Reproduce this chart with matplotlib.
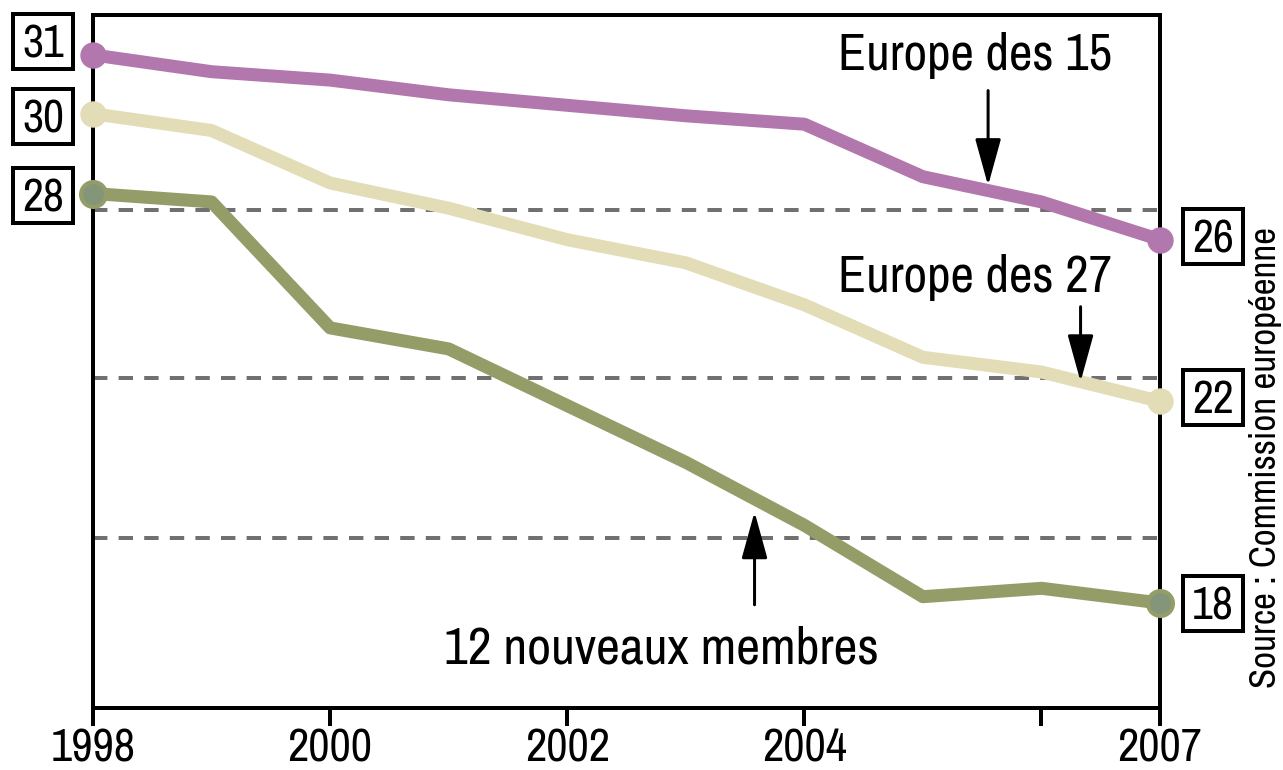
import matplotlib
matplotlib.use('Agg')
import matplotlib.pyplot as plt
from matplotlib.patches import Rectangle
from matplotlib.transforms import IdentityTransform
import numpy as np

# ---------------- data ----------------
years = [1998, 1999, 2000, 2001, 2002, 2003, 2004, 2005, 2006, 2007]
eu15 = [31.0, 30.6, 30.4, 30.05, 29.8, 29.55, 29.35, 28.1, 27.5, 26.6]
eu27 = [29.6, 29.2, 27.95, 27.35, 26.6, 26.05, 25.05, 23.8, 23.45, 22.75]
new12 = [27.7, 27.5, 24.5, 24.0, 22.65, 21.3, 19.8, 18.1, 18.3, 17.95]
start_labels = ['31', '30', '28']
end_labels = ['26', '22', '18']
tick_years = [1998, 2000, 2002, 2004, 2006, 2007]
tick_labels = ['1998', '2000', '2002', '2004', '', '2007']
grid_levels = [27.3, 23.3, 19.5]
series_names = ['Europe des 15', 'Europe des 27', '12 nouveaux membres']
source_text = 'Source : Commission européenne'

# ---------------- style ----------------
W, H, DPI = 1283, 770, 100
PT = 72.0 / DPI  # points per pixel
FONT = ['Archivo Narrow', 'Liberation Sans', 'DejaVu Sans']
plt.rcParams['font.family'] = FONT

c15 = '#b278ae'
c27 = '#e2ddb6'
c12 = '#949c68'
c12_center = '#849679'

fig = plt.figure(figsize=(W / DPI, H / DPI), dpi=DPI)
fig.patch.set_facecolor('white')
L, R, T, B = 93, 1160, 15, 708
ax = fig.add_axes([L / W, 1 - B / H, (R - L) / W, (B - T) / H])
ax.set_xlim(1998, 2007)
ax.set_ylim(15.45, 31.95)

for s in ax.spines.values():
    s.set_linewidth(4 * PT)
    s.set_color('black')

ax.set_yticks([])
ax.set_xticks(tick_years)
ax.set_xticklabels(tick_labels, fontsize=33.5)
ax.tick_params(axis='x', direction='out', length=18 * PT, width=4 * PT,
               pad=2 * PT, colors='black')

# dashed reference lines
for g in grid_levels:
    ax.axhline(g, color='#707070', lw=4 * PT, dashes=(3.6, 2.8), zorder=1)

# series
lw = 13 * PT
ms = 25 * PT
for vals, col in [(eu15, c15), (eu27, c27), (new12, c12)]:
    ax.plot(years, vals, color=col, lw=lw, solid_capstyle='round',
            solid_joinstyle='round', zorder=4, clip_on=False)
for vals, col in [(eu15, c15), (eu27, c27)]:
    ax.plot([years[0], years[-1]], [vals[0], vals[-1]], 'o', color=col,
            ms=ms, mec=col, zorder=5, clip_on=False)
ax.plot([years[0], years[-1]], [new12[0], new12[-1]], 'o', color=c12_center,
        ms=ms, mec=c12, mew=4 * PT, zorder=5, clip_on=False)

# value boxes
idt = IdentityTransform()
box_w, box_h = 60, 55
start_offsets = [13, -3, -2]   # pixels (up positive) from line start
end_offsets = [3, 4, 0]
series = [eu15, eu27, new12]


def value_box(cx, cy, lab):
    fig.add_artist(Rectangle((cx - box_w / 2, cy - box_h / 2), box_w, box_h,
                             transform=idt, fc='white', ec='black',
                             lw=4 * PT, zorder=6))
    fig.text(cx, cy - 16, lab, transform=idt, ha='center', va='baseline',
             fontsize=33, zorder=7)


for vals, lab, off in zip(series, start_labels, start_offsets):
    xd, yd = ax.transData.transform((years[0], vals[0]))
    value_box(xd - 50, yd + off, lab)
for vals, lab, off in zip(series, end_labels, end_offsets):
    xd, yd = ax.transData.transform((years[-1], vals[-1]))
    value_box(xd + 53, yd + off, lab)


def fx(px):
    return px / W


def fy(py):
    return 1 - py / H


# series name labels
fig.text(fx(975), fy(70), series_names[0], ha='center', va='baseline', fontsize=37)
fig.text(fx(975), fy(292), series_names[1], ha='center', va='baseline', fontsize=37)
fig.text(fx(661), fy(663), series_names[2], ha='center', va='baseline', fontsize=37.5)

# arrows pointing at the lines
ml = 20
arrow_style = '-|>,head_length=1.45,head_width=0.4'
for xa, vals, dy, shrink in [(2005.55, eu15, 100, 5), (2006.33, eu27, 75, 0),
                             (2003.58, new12, -106, 13)]:
    ya = np.interp(xa, years, vals)
    ax.annotate('', xy=(xa, ya), xycoords='data', xytext=(0, dy),
                textcoords='offset pixels',
                arrowprops=dict(arrowstyle=arrow_style, color='black',
                                lw=3 * PT, mutation_scale=ml,
                                shrinkA=0, shrinkB=shrink * PT),
                zorder=8, annotation_clip=False)

# source
fig.text(fx(1265), fy(457), source_text, rotation=90, ha='center', va='center',
         fontsize=26.5)

fig.savefig('out.png', dpi=DPI, facecolor='white')
